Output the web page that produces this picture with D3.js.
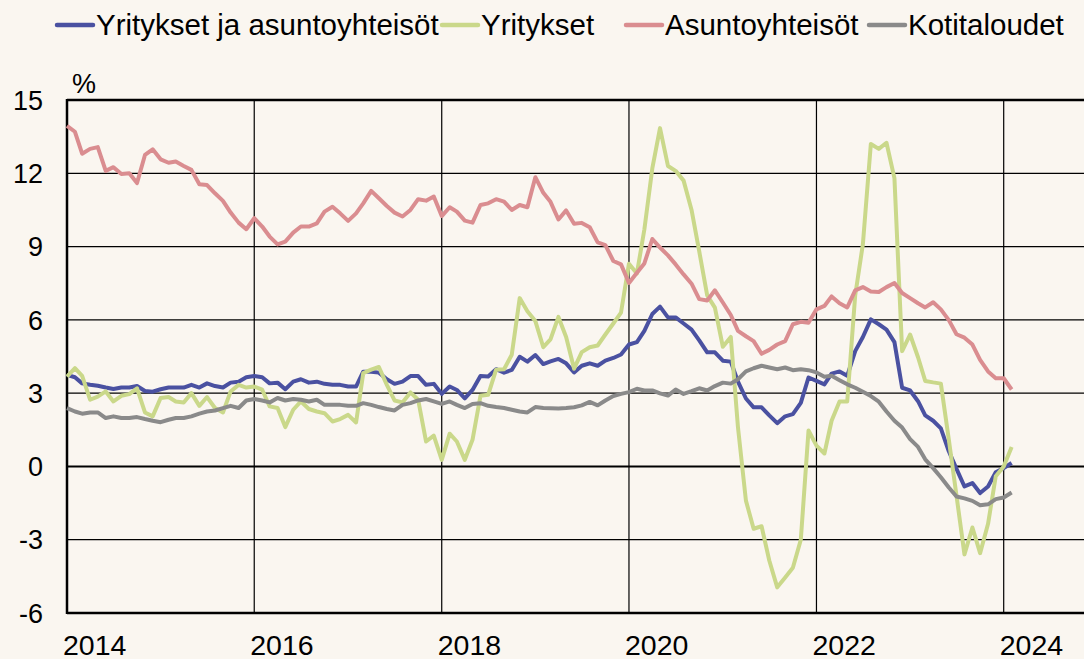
<!DOCTYPE html>
<html>
<head>
<meta charset="utf-8">
<script src="https://cdn.jsdelivr.net/npm/d3@7"></script>
<style>
  body { margin: 0; background: #faf6f0; }
  svg { display: block; font-family: "Liberation Sans", Arial, sans-serif; }
</style>
</head>
<body>
<div id="chart"></div>
<script>
// Monthly data, Jan 2014 - Feb 2024 (%)
const firstMonth = new Date(2014, 0, 1);

const yrityksetJaAsunto = [
  3.75, 3.65, 3.4, 3.34, 3.3, 3.23, 3.17, 3.23, 3.23, 3.29,
  3.09, 3.06, 3.16, 3.23, 3.23, 3.23, 3.34, 3.23, 3.4, 3.29,
  3.23, 3.43, 3.47, 3.65, 3.7, 3.65, 3.4, 3.43, 3.16, 3.47,
  3.57, 3.43, 3.47, 3.38, 3.34, 3.34, 3.27, 3.27, 3.88, 3.88,
  3.84, 3.57, 3.38, 3.47, 3.7, 3.7, 3.34, 3.38, 2.97, 3.27,
  3.13, 2.79, 3.13, 3.7, 3.68, 3.98, 3.84, 3.95, 4.49, 4.29,
  4.56, 4.19, 4.3, 4.4, 4.22, 3.85, 4.12, 4.22, 4.12, 4.33,
  4.44, 4.58, 4.99, 5.09, 5.55, 6.24, 6.54, 6.1, 6.1, 5.85,
  5.6, 5.16, 4.67, 4.67, 4.33, 4.29, 3.47, 2.78, 2.42, 2.42,
  2.09, 1.77, 2.05, 2.14, 2.6, 3.64, 3.5, 3.36, 3.8, 3.89,
  3.71, 4.72, 5.3, 6.02, 5.82, 5.6, 5.09, 3.22, 3.11, 2.67,
  2.09, 1.87, 1.56, 0.62, -0.1, -0.82, -0.68, -1.09, -0.82, -0.24,
  -0.07, 0.14
];

const yritykset = [
  3.68, 4.02, 3.71, 2.73, 2.86, 3.07, 2.66, 2.89, 2.96, 3.2,
  2.21, 2.05, 2.8, 2.84, 2.66, 2.62, 3.0, 2.48, 2.84, 2.39,
  2.21, 3.07, 3.34, 3.23, 3.27, 3.14, 2.46, 2.39, 1.61, 2.32,
  2.66, 2.35, 2.25, 2.18, 1.84, 1.94, 2.11, 1.8, 3.82, 3.96,
  4.07, 3.34, 2.7, 2.62, 3.03, 2.73, 1.02, 1.26, 0.27, 1.34,
  1.02, 0.27, 1.09, 2.89, 2.93, 3.96, 3.98, 4.57, 6.89, 6.35,
  5.95, 4.88, 5.2, 6.12, 5.3, 4.0, 4.68, 4.88, 4.95, 5.4,
  5.85, 6.3, 8.3, 7.9, 9.7, 12.2, 13.85, 12.3, 12.1, 11.7,
  10.5, 8.8, 7.0, 6.5, 4.9, 5.3, 1.6, -1.4, -2.55, -2.45,
  -3.85, -4.95, -4.55, -4.15, -3.0, 1.47, 0.85, 0.53, 1.87, 2.66,
  2.66, 7.0, 9.1, 13.2, 13.0, 13.25, 11.8, 4.72, 5.4, 4.47,
  3.5, 3.44, 3.39, 1.1, -1.2, -3.6, -2.5, -3.55, -2.35, -0.4,
  0.0, 0.8
];

const asuntoyhteisot = [
  13.94, 13.7, 12.8, 13.0, 13.07, 12.1, 12.25, 11.97, 12.0, 11.6,
  12.75, 12.98, 12.57, 12.43, 12.48, 12.3, 12.14, 11.55, 11.52, 11.18,
  10.87, 10.39, 9.98, 9.71, 10.16, 9.82, 9.41, 9.09, 9.2, 9.57,
  9.82, 9.82, 9.95, 10.43, 10.63, 10.36, 10.05, 10.36, 10.77, 11.28,
  10.98, 10.66, 10.39, 10.23, 10.5, 10.94, 10.88, 11.05, 10.25, 10.61,
  10.43, 10.06, 9.98, 10.7, 10.77, 10.94, 10.84, 10.5, 10.7, 10.61,
  11.84, 11.2, 10.83, 10.11, 10.48, 9.93, 9.97, 9.79, 9.17, 9.06,
  8.41, 8.27, 7.51, 7.93, 8.31, 9.31, 8.96, 8.64, 8.27, 7.86,
  7.48, 6.85, 6.79, 7.21, 6.71, 6.2, 5.55, 5.33, 5.13, 4.61,
  4.77, 4.99, 5.13, 5.82, 5.92, 5.88, 6.43, 6.57, 6.96, 6.68,
  6.51, 7.21, 7.34, 7.16, 7.14, 7.34, 7.51, 7.1, 6.89, 6.68,
  6.51, 6.72, 6.43, 5.99, 5.41, 5.27, 4.99, 4.36, 3.89, 3.61,
  3.61, 3.15
];

const kotitaloudet = [
  2.39, 2.25, 2.16, 2.21, 2.21, 1.98, 2.05, 1.98, 1.98, 2.02,
  1.94, 1.87, 1.81, 1.91, 1.98, 1.98, 2.05, 2.16, 2.25, 2.29,
  2.39, 2.48, 2.39, 2.7, 2.76, 2.7, 2.62, 2.8, 2.7, 2.76,
  2.73, 2.66, 2.73, 2.52, 2.52, 2.52, 2.48, 2.48, 2.59, 2.52,
  2.43, 2.35, 2.29, 2.52, 2.59, 2.7, 2.76, 2.66, 2.56, 2.66,
  2.52, 2.39, 2.56, 2.59, 2.48, 2.43, 2.39, 2.32, 2.25, 2.21,
  2.43, 2.39, 2.38, 2.37, 2.39, 2.42, 2.5, 2.64, 2.5, 2.7,
  2.88, 2.97, 3.04, 3.18, 3.11, 3.11, 2.99, 2.9, 3.15, 2.97,
  3.08, 3.2, 3.11, 3.29, 3.43, 3.39, 3.57, 3.89, 4.02, 4.12,
  4.05, 3.98, 4.05, 3.94, 3.98, 3.94, 3.85, 3.67, 3.71, 3.53,
  3.36, 3.22, 3.06, 2.88, 2.65, 2.25, 1.87, 1.59, 1.12, 0.8,
  0.29, -0.07, -0.44, -0.86, -1.23, -1.31, -1.41, -1.59, -1.55, -1.34,
  -1.27, -1.07
];

const seriesNames = ["Yritykset ja asuntoyhteisöt", "Yritykset", "Asuntoyhteisöt", "Kotitaloudet"];
const seriesColors = ["#4a51a1", "#cad88a", "#da8d90", "#8a8a8a"];
const yTicks = [-6, -3, 0, 3, 6, 9, 12, 15];
const yearTicks = ["2014", "2016", "2018", "2020", "2022", "2024"];

const W = 1084, H = 659;

const svg = d3.select("#chart").append("svg")
    .attr("width", W)
    .attr("height", H);

svg.append("rect").attr("width", W).attr("height", H).attr("fill", "#faf6f0");

// scales
const x = d3.scaleTime()
    .domain([new Date(2014, 0, 1), new Date(2024, 0, 1)])
    .range([67, 1003.7]);
const y = d3.scaleLinear()
    .domain([-6, 15])
    .range([613, 100]);

const left = x.range()[0], right = W + 20;

// horizontal grid
svg.append("g")
  .selectAll("line")
  .data(yTicks.filter(d => d > -6 && d < 15))
  .join("line")
    .attr("x1", left).attr("x2", right)
    .attr("y1", d => y(d)).attr("y2", d => y(d))
    .attr("stroke", "#000")
    .attr("stroke-width", d => d === 0 ? 2 : 1.2);

// vertical grid
svg.append("g")
  .selectAll("line")
  .data(yearTicks.slice(1))
  .join("line")
    .attr("x1", d => x(new Date(+d, 0, 1))).attr("x2", d => x(new Date(+d, 0, 1)))
    .attr("y1", y(15)).attr("y2", y(-6))
    .attr("stroke", "#000")
    .attr("stroke-width", 1.2);

// frame: top, bottom, left
svg.append("line").attr("x1", left).attr("x2", right).attr("y1", y(15)).attr("y2", y(15))
  .attr("stroke", "#000").attr("stroke-width", 2.5);
svg.append("line").attr("x1", left).attr("x2", right).attr("y1", y(-6)).attr("y2", y(-6))
  .attr("stroke", "#000").attr("stroke-width", 2.5);
svg.append("line").attr("x1", left).attr("x2", left).attr("y1", y(15) - 1).attr("y2", y(-6) + 1)
  .attr("stroke", "#000").attr("stroke-width", 2.5);

// y labels
svg.append("g")
  .selectAll("text")
  .data(yTicks)
  .join("text")
    .attr("x", 43)
    .attr("y", d => y(d))
    .attr("dy", "0.36em")
    .attr("text-anchor", "end")
    .attr("font-size", 27)
    .attr("fill", "#000")
    .text(d => d);

svg.append("text")
  .attr("x", 72).attr("y", 93)
  .attr("font-size", 27)
  .text("%");

// x labels
svg.append("g")
  .selectAll("text")
  .data(yearTicks)
  .join("text")
    .attr("x", d => x(new Date(+d, 0, 1)) - 4)
    .attr("y", 655)
    .attr("font-size", 28.5)
    .attr("fill", "#000")
    .text(d => d);

// lines
const allSeries = [yrityksetJaAsunto, yritykset, asuntoyhteisot, kotitaloudet];
const line = d3.line()
  .x((d, i) => x(d3.timeMonth.offset(firstMonth, i)))
  .y(d => y(d));

svg.append("g")
  .selectAll("path")
  .data(allSeries)
  .join("path")
    .attr("fill", "none")
    .attr("stroke", (d, i) => seriesColors[i])
    .attr("stroke-width", 4)
    .attr("stroke-linejoin", "round")
    .attr("d", line);

// legend
const legendX = [57, 442, 626, 869];
const legend = svg.append("g")
  .selectAll("g")
  .data(seriesNames)
  .join("g")
    .attr("transform", (d, i) => `translate(${legendX[i]},25)`);

legend.append("line")
  .attr("x1", 0).attr("x2", 36)
  .attr("stroke", (d, i) => seriesColors[i])
  .attr("stroke-width", 4.5)
  .attr("stroke-linecap", "round");

legend.append("text")
  .attr("x", 39)
  .attr("y", 10)
  .attr("font-size", 29.5)
  .attr("fill", "#000")
  .text(d => d);
</script>
</body>
</html>
